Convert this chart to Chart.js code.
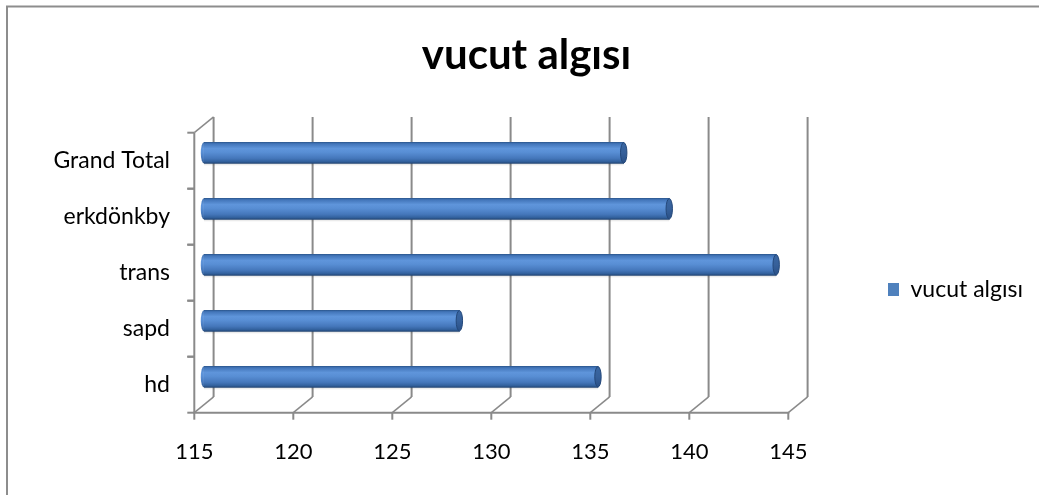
<!DOCTYPE html>
<html>
<head>
<meta charset="utf-8">
<script src="https://cdn.jsdelivr.net/npm/chart.js@4"></script>
<style>
  html, body { margin: 0; padding: 0; background: #fff; }
  canvas { display: block; }
</style>
</head>
<body>
<canvas id="chart" width="1039" height="495"></canvas>
<script>
// Data
const chartTitle = 'vucut algısı';
const seriesName = 'vucut algısı';
const categories = ['hd', 'sapd', 'trans', 'erkdönkby', 'Grand Total'];
const values = [134.9, 127.9, 143.9, 138.5, 136.2];
const xTickMin = 115;
const xTickMax = 145;
const xTickStep = 5;

// Look and layout
const FONT = 'Lato';
const DEPTH_X = 19.3;        // offset of the back wall
const DEPTH_Y = -15.8;
const BAR_H = 21;
const CAP_RX = 3.2;
const GRID = '#8a8a8a';
const BAR_BLUE = '#4f81bd';
const LEGEND_FONT = 23;
const LEGEND_PAD = 99.7;
const LEGEND_BOX = 11;

const PLOT = { left: 194.3, right: 788.3, top: 132.7, bottom: 412.7 };
const W = 1039, H = 495;

Chart.defaults.font.family = FONT;
Chart.defaults.color = '#000';

// legend width decides how much room is left on the right
const meas = document.createElement('canvas').getContext('2d');
meas.font = LEGEND_FONT + 'px ' + FONT;
const legendW = LEGEND_PAD + LEGEND_BOX + LEGEND_FONT / 2 + meas.measureText(seriesName).width + 10;
const padR = W - PLOT.right - legendW;
const padL = 2 * 526.5 - W + padR;     // keeps the title centred
const padB = 10;
const yAxisW = PLOT.left - padL;
const xAxisH = H - padB - PLOT.bottom;

function bodyGradient(ctx, top, h) {
  const g = ctx.createLinearGradient(0, top, 0, top + h);
  g.addColorStop(0.00, '#2e5a92');
  g.addColorStop(0.07, '#4275b9');
  g.addColorStop(0.30, '#5f95db');
  g.addColorStop(0.48, '#588ed4');
  g.addColorStop(0.76, '#4577bb');
  g.addColorStop(0.91, '#33629f');
  g.addColorStop(1.00, '#24497a');
  return g;
}

function capGradient(ctx, top, h) {
  const g = ctx.createLinearGradient(0, top, 0, top + h);
  g.addColorStop(0, '#3a67a3');
  g.addColorStop(0.5, '#36609a');
  g.addColorStop(1, '#2a5087');
  return g;
}

// 3-D frame: back wall gridlines, floor edges, side wall, cylinder ends
const frame3d = {
  id: 'frame3d',
  beforeDraw(chart) {
    const ctx = chart.ctx;
    ctx.save();
    ctx.fillStyle = '#fff';
    ctx.fillRect(0, 0, chart.width, chart.height);
    ctx.strokeStyle = '#8d8d8d';
    ctx.lineWidth = 2;
    ctx.beginPath();
    ctx.moveTo(7, chart.height);
    ctx.lineTo(7, 6.5);
    ctx.lineTo(chart.width, 6.5);
    ctx.stroke();
    ctx.restore();
  },
  beforeDatasetsDraw(chart) {
    const { ctx, chartArea: a, scales: { x, y } } = chart;
    const line = (x1, y1, x2, y2, w) => {
      ctx.lineWidth = w;
      ctx.beginPath();
      ctx.moveTo(x1, y1);
      ctx.lineTo(x2, y2);
      ctx.stroke();
    };
    ctx.save();
    ctx.strokeStyle = GRID;
    x.ticks.forEach(t => {
      const px = x.getPixelForValue(t.value);
      line(px + DEPTH_X, a.top + DEPTH_Y, px + DEPTH_X, a.bottom + DEPTH_Y, 2);
      line(px, a.bottom, px + DEPTH_X, a.bottom + DEPTH_Y, 1.5);
      line(px, a.bottom, px, a.bottom + 7, 2);
    });
    line(a.left, a.top, a.left, a.bottom, 2);
    line(a.left, a.top, a.left + DEPTH_X, a.top + DEPTH_Y, 1.5);
    line(a.left - 1, a.bottom, a.right + 1, a.bottom, 2);
    const n = y.ticks.length;
    const band = Math.abs(y.getPixelForValue(1) - y.getPixelForValue(0));
    for (let i = 0; i < n; i++) {
      const c = y.getPixelForValue(i);
      line(a.left - 7, c - band / 2, a.left, c - band / 2, 2);
      line(a.left - 7, c + band / 2, a.left, c + band / 2, 2);
    }
    ctx.restore();
    // bars sit half way into the depth
    ctx.save();
    ctx.translate(DEPTH_X / 2, DEPTH_Y / 2);
  },
  afterDatasetsDraw(chart) {
    const ctx = chart.ctx;
    const a = chart.chartArea;
    const meta = chart.getDatasetMeta(0);
    meta.data.forEach(bar => {
      const { x, y, height } = bar.getProps(['x', 'y', 'height'], true);
      const base = Math.max(bar.base, a.left);
      const top = y - height / 2;
      // faint shadow on the floor side
      ctx.fillStyle = 'rgba(0,0,0,0.08)';
      ctx.fillRect(base, top + height, x - base, 2);
      // rounded near end
      ctx.fillStyle = bodyGradient(ctx, top, height);
      ctx.beginPath();
      ctx.ellipse(base, y, CAP_RX, height / 2, 0, Math.PI / 2, Math.PI * 1.5);
      ctx.fill();
      // end cap
      ctx.fillStyle = capGradient(ctx, top, height);
      ctx.strokeStyle = '#24487a';
      ctx.lineWidth = 1;
      ctx.beginPath();
      ctx.ellipse(x, y, CAP_RX, height / 2 - 0.3, 0, 0, Math.PI * 2);
      ctx.fill();
      ctx.stroke();
    });
    ctx.restore();
  }
};

new Chart(document.getElementById('chart'), {
  type: 'bar',
  data: {
    labels: categories,
    datasets: [{
      label: seriesName,
      data: values,
      backgroundColor: (c) => {
        const ys = c.chart.scales && c.chart.scales.y;
        if (c.type !== 'data' || !ys) return BAR_BLUE;
        const cy = ys.getPixelForValue(c.dataIndex);
        return bodyGradient(c.chart.ctx, cy - BAR_H / 2, BAR_H);
      },
      borderWidth: 0,
      barThickness: BAR_H
    }]
  },
  options: {
    indexAxis: 'y',
    responsive: false,
    animation: false,
    devicePixelRatio: 1,
    layout: { padding: { left: padL, right: padR, top: 0, bottom: padB } },
    scales: {
      x: {
        min: xTickMin,
        max: xTickMax,
        ticks: { stepSize: xTickStep, padding: 25.8, color: '#000', font: { size: 22 }, maxRotation: 0 },
        grid: { display: false, drawTicks: false, tickLength: 0 },
        border: { display: false },
        afterFit: s => { s.height = xAxisH; }
      },
      y: {
        reverse: true,
        ticks: { padding: 24.3, color: '#000', font: { size: 23 } },
        grid: { display: false, drawTicks: false, tickLength: 0 },
        border: { display: false },
        afterFit: s => { s.width = yAxisW; }
      }
    },
    plugins: {
      title: {
        display: true,
        text: chartTitle,
        color: '#000',
        font: { size: 42, weight: 'bold' },
        padding: { top: 30.5, bottom: 51.8 }
      },
      legend: {
        position: 'right',
        fullSize: false,
        align: 'center',
        title: { display: true, text: '', padding: { top: 23.6, bottom: 0 }, font: { size: 10, lineHeight: 1 } },
        labels: {
          boxWidth: LEGEND_BOX,
          boxHeight: 13,
          padding: LEGEND_PAD,
          color: '#000',
          font: { size: LEGEND_FONT },
          generateLabels: (chart) => Chart.defaults.plugins.legend.labels.generateLabels(chart)
            .map(item => Object.assign(item, { fillStyle: BAR_BLUE, strokeStyle: BAR_BLUE, lineWidth: 0 }))
        }
      },
      tooltip: { enabled: false }
    }
  },
  plugins: [frame3d]
});
</script>
</body>
</html>
